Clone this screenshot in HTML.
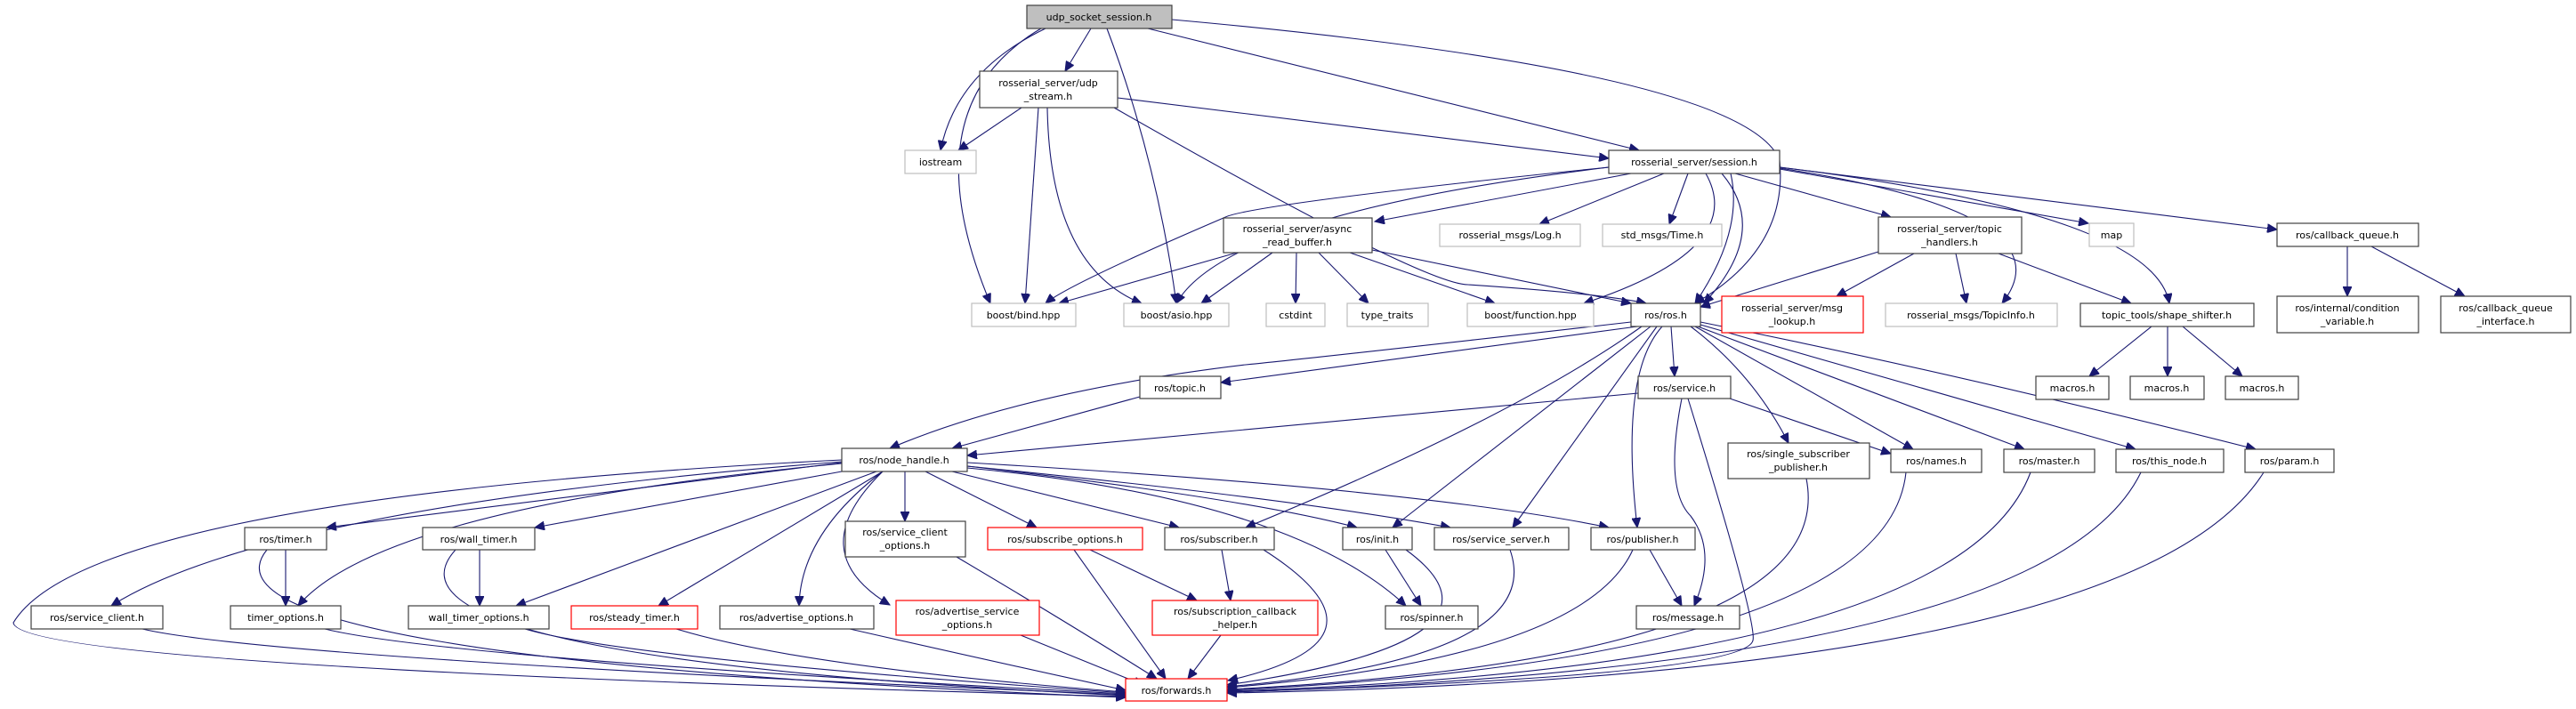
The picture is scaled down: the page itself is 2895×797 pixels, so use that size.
<!DOCTYPE html>
<html><head><meta charset="utf-8"><style>
html,body{margin:0;padding:0;background:#fff}
svg{display:block}
text{font-family:"DejaVu Sans","Liberation Sans",sans-serif;font-size:11px;fill:#000;text-anchor:middle}
.n{fill:#fff;stroke:#404040;stroke-width:1.2}
.g{fill:#fff;stroke:#bfbfbf;stroke-width:1.2}
.r{fill:#fff;stroke:#ff0000;stroke-width:1.2}
.e{fill:none;stroke:#191970;stroke-width:1.1;marker-end:url(#a)}
</style></head><body>
<svg width="2895" height="797" viewBox="0 0 2895 797" xmlns="http://www.w3.org/2000/svg">
<defs><marker id="a" markerUnits="userSpaceOnUse" markerWidth="12" markerHeight="10" refX="11" refY="5" orient="auto"><path d="M0,0 L11,5 L0,10 z" fill="#191970" stroke="#191970"/></marker></defs>
<g>
<!-- udp -->
<path class="e" d="M1226,32 L1197,80"/>
<path class="e" d="M1175,32 Q1075,80 1057,169"/>
<path class="e" d="M1170,32 Q1020,120 1113,341"/>
<path class="e" d="M1244,32 Q1300,180 1322,341"/>
<path class="e" d="M1290,32 L1842,169"/>
<path class="e" d="M1317,22 Q1960,80 2000,180 Q2010,280 1905,341"/>
<!-- udp_stream -->
<path class="e" d="M1148,121 L1077,169"/>
<path class="e" d="M1167,121 L1152,341"/>
<path class="e" d="M1177,121 Q1180,300 1283,341"/>
<path class="e" d="M1256,110 L1808,178"/>
<path class="e" d="M1252,121 Q1600,320 1650,320 Q1800,330 1850,341"/>
<!-- session -->
<path class="e" d="M1808,188 Q1400,230 1375,245 Q1200,320 1175,341"/>
<path class="e" d="M1808,188 Q1380,240 1322,341"/>
<path class="e" d="M1833,195 L1545,249"/>
<path class="e" d="M1870,195 L1730,252"/>
<path class="e" d="M1897,195 L1876,252"/>
<path class="e" d="M1917,195 Q1965,280 1780,341"/>
<path class="e" d="M1935,195 Q1990,260 1915,341"/>
<path class="e" d="M1945,195 Q1960,260 1905,341"/>
<path class="e" d="M1950,195 L2125,244"/>
<path class="e" d="M2000,189 Q2330,240 2250,341"/>
<path class="e" d="M2000,190 L2347,251"/>
<path class="e" d="M2000,188 Q2420,240 2438,341"/>
<path class="e" d="M2000,188 L2559,258"/>
<!-- async -->
<path class="e" d="M1390,284 L1190,341"/>
<path class="e" d="M1430,284 L1350,341"/>
<path class="e" d="M1457,284 L1456,341"/>
<path class="e" d="M1482,284 L1538,341"/>
<path class="e" d="M1517,284 L1680,341"/>
<path class="e" d="M1542,281 L1833,341"/>
<!-- topic handlers -->
<path class="e" d="M2111,283 L1911,345"/>
<path class="e" d="M2151,285 L2064,333"/>
<path class="e" d="M2198,285 L2210,341"/>
<path class="e" d="M2246,285 L2395,341"/>
<path class="e" d="M2638,277 L2638,333"/>
<path class="e" d="M2665,277 L2770,333"/>
<path class="e" d="M2418,367 L2348,423"/>
<path class="e" d="M2436,367 L2436,423"/>
<path class="e" d="M2453,367 L2520,423"/>
<!-- ros.h -->
<path class="e" d="M1833,362 Q1500,400 1400,410 Q1150,440 1000,504"/>
<path class="e" d="M1840,367 L1372,430"/>
<path class="e" d="M1878,367 L1882,423"/>
<path class="e" d="M1845,367 Q1700,470 1400,593"/>
<path class="e" d="M1855,367 L1565,593"/>
<path class="e" d="M1862,367 L1700,593"/>
<path class="e" d="M1868,367 Q1820,420 1840,593"/>
<path class="e" d="M1900,367 Q1970,420 2010,498"/>
<path class="e" d="M1905,367 L2150,505"/>
<path class="e" d="M1908,367 L2275,505"/>
<path class="e" d="M1911,365 L2400,505"/>
<path class="e" d="M1911,362 Q2200,420 2535,505"/>
<path class="e" d="M1281,446 L1070,504"/>
<!-- service.h -->
<path class="e" d="M1841,442 L1087,512"/>
<path class="e" d="M1944,448 L2125,510"/>
<path class="e" d="M1890,448 Q1870,550 1900,580 Q1930,620 1904,681"/>
<path class="e" d="M1897,448 Q1975,700 1970,720 Q1960,760 1379,778"/>
<!-- node_handle -->
<path class="e" d="M946,519 Q300,570 125,681"/>
<path class="e" d="M946,517 Q100,560 15,700 Q20,750 1265,783"/>
<path class="e" d="M946,520 L367,593"/>
<path class="e" d="M946,521 Q430,570 335,681"/>
<path class="e" d="M946,530 L601,593"/>
<path class="e" d="M985,530 L580,681"/>
<path class="e" d="M992,530 L740,681"/>
<path class="e" d="M992,530 Q900,600 898,681"/>
<path class="e" d="M992,530 Q900,620 1000,680"/>
<path class="e" d="M1017,530 L1017,586"/>
<path class="e" d="M1040,530 L1165,593"/>
<path class="e" d="M1070,530 L1325,593"/>
<path class="e" d="M1087,524 Q1400,560 1525,593"/>
<path class="e" d="M1087,524 Q1450,560 1630,593"/>
<path class="e" d="M1087,520 Q1600,550 1808,593"/>
<path class="e" d="M1087,526 Q1450,560 1580,681"/>
<!-- mid layer -->
<path class="e" d="M321,618 L321,681"/>
<path class="e" d="M300,618 Q200,740 1265,784"/>
<path class="e" d="M539,618 L539,681"/>
<path class="e" d="M512,618 Q400,740 1265,782"/>
<path class="e" d="M160,707 Q300,740 1265,781"/>
<path class="e" d="M365,707 Q500,740 1265,780"/>
<path class="e" d="M590,707 Q700,740 1265,779"/>
<path class="e" d="M760,707 Q900,750 1265,778"/>
<path class="e" d="M955,707 Q1100,740 1265,776"/>
<path class="e" d="M1075,626 Q1200,700 1300,763"/>
<path class="e" d="M1147,714 L1285,770"/>
<path class="e" d="M1207,618 L1310,763"/>
<path class="e" d="M1225,618 L1345,675"/>
<path class="e" d="M1373,618 L1383,675"/>
<path class="e" d="M1420,618 Q1580,720 1380,765"/>
<path class="e" d="M1372,714 L1335,763"/>
<path class="e" d="M1557,618 L1597,681"/>
<path class="e" d="M1580,618 Q1720,720 1379,770"/>
<path class="e" d="M1697,618 Q1740,740 1379,772"/>
<path class="e" d="M1835,618 Q1780,740 1379,773"/>
<path class="e" d="M1854,618 L1890,681"/>
<path class="e" d="M2030,538 Q2070,740 1379,775"/>
<path class="e" d="M2142,531 Q2120,740 1379,776"/>
<path class="e" d="M2282,531 Q2200,750 1379,777"/>
<path class="e" d="M2406,531 Q2300,750 1379,778"/>
<path class="e" d="M2544,531 Q2400,760 1379,779"/>
</g>
<g>
<rect x="1154" y="6" width="163" height="26" fill="#bfbfbf" stroke="#404040" stroke-width="1.2"/><text x="1235" y="23">udp_socket_session.h</text>
<rect class="n" x="1101" y="80" width="155" height="41"/><text x="1178" y="97">rosserial_server/udp</text><text x="1178" y="112">_stream.h</text>
<rect class="g" x="1017" y="169" width="80" height="26"/><text x="1057" y="186">iostream</text>
<rect class="n" x="1808" y="169" width="192" height="26"/><text x="1904" y="186">rosserial_server/session.h</text>
<rect class="n" x="1375" y="245" width="167" height="39"/><text x="1458" y="261">rosserial_server/async</text><text x="1458" y="276">_read_buffer.h</text>
<rect class="g" x="1618" y="252" width="158" height="25"/><text x="1697" y="268">rosserial_msgs/Log.h</text>
<rect class="g" x="1801" y="252" width="134" height="25"/><text x="1868" y="268">std_msgs/Time.h</text>
<rect class="n" x="2111" y="244" width="161" height="41"/><text x="2191" y="261">rosserial_server/topic</text><text x="2191" y="276">_handlers.h</text>
<rect class="g" x="2348" y="251" width="50" height="26"/><text x="2373" y="268">map</text>
<rect class="n" x="2559" y="251" width="159" height="26"/><text x="2638" y="268">ros/callback_queue.h</text>
<rect class="g" x="1092" y="341" width="117" height="26"/><text x="1150" y="358">boost/bind.hpp</text>
<rect class="g" x="1263" y="341" width="118" height="26"/><text x="1322" y="358">boost/asio.hpp</text>
<rect class="g" x="1423" y="341" width="66" height="26"/><text x="1456" y="358">cstdint</text>
<rect class="g" x="1514" y="341" width="91" height="26"/><text x="1559" y="358">type_traits</text>
<rect class="g" x="1649" y="341" width="142" height="26"/><text x="1720" y="358">boost/function.hpp</text>
<rect class="n" x="1833" y="341" width="78" height="26"/><text x="1872" y="358">ros/ros.h</text>
<rect class="r" x="1935" y="333" width="159" height="41"/><text x="2014" y="350">rosserial_server/msg</text><text x="2014" y="365">_lookup.h</text>
<rect class="g" x="2119" y="341" width="193" height="26"/><text x="2215" y="358">rosserial_msgs/TopicInfo.h</text>
<rect class="n" x="2338" y="341" width="195" height="26"/><text x="2435" y="358">topic_tools/shape_shifter.h</text>
<rect class="n" x="2559" y="333" width="159" height="41"/><text x="2638" y="350">ros/internal/condition</text><text x="2638" y="365">_variable.h</text>
<rect class="n" x="2743" y="333" width="146" height="41"/><text x="2816" y="350">ros/callback_queue</text><text x="2816" y="365">_interface.h</text>
<rect class="n" x="2288" y="423" width="82" height="26"/><text x="2329" y="440">macros.h</text>
<rect class="n" x="2394" y="423" width="83" height="26"/><text x="2435" y="440">macros.h</text>
<rect class="n" x="2501" y="423" width="82" height="26"/><text x="2542" y="440">macros.h</text>
<rect class="n" x="1281" y="423" width="91" height="25"/><text x="1326" y="440">ros/topic.h</text>
<rect class="n" x="1841" y="423" width="104" height="25"/><text x="1893" y="440">ros/service.h</text>
<rect class="n" x="946" y="504" width="141" height="26"/><text x="1016" y="521">ros/node_handle.h</text>
<rect class="n" x="1942" y="498" width="159" height="40"/><text x="2021" y="514">ros/single_subscriber</text><text x="2021" y="529">_publisher.h</text>
<rect class="n" x="2125" y="505" width="102" height="26"/><text x="2176" y="522">ros/names.h</text>
<rect class="n" x="2252" y="505" width="102" height="26"/><text x="2303" y="522">ros/master.h</text>
<rect class="n" x="2378" y="505" width="121" height="26"/><text x="2438" y="522">ros/this_node.h</text>
<rect class="n" x="2523" y="505" width="100" height="26"/><text x="2573" y="522">ros/param.h</text>
<rect class="n" x="275" y="593" width="92" height="25"/><text x="321" y="610">ros/timer.h</text>
<rect class="n" x="475" y="593" width="126" height="25"/><text x="538" y="610">ros/wall_timer.h</text>
<rect class="n" x="950" y="586" width="135" height="40"/><text x="1017" y="602">ros/service_client</text><text x="1017" y="617">_options.h</text>
<rect class="r" x="1110" y="593" width="174" height="25"/><text x="1197" y="610">ros/subscribe_options.h</text>
<rect class="n" x="1309" y="593" width="123" height="25"/><text x="1370" y="610">ros/subscriber.h</text>
<rect class="n" x="1509" y="593" width="78" height="25"/><text x="1548" y="610">ros/init.h</text>
<rect class="n" x="1612" y="593" width="151" height="25"/><text x="1687" y="610">ros/service_server.h</text>
<rect class="n" x="1788" y="593" width="117" height="25"/><text x="1846" y="610">ros/publisher.h</text>
<rect class="n" x="35" y="681" width="148" height="26"/><text x="109" y="698">ros/service_client.h</text>
<rect class="n" x="259" y="681" width="124" height="26"/><text x="321" y="698">timer_options.h</text>
<rect class="n" x="459" y="681" width="158" height="26"/><text x="538" y="698">wall_timer_options.h</text>
<rect class="r" x="642" y="681" width="142" height="26"/><text x="713" y="698">ros/steady_timer.h</text>
<rect class="n" x="809" y="681" width="173" height="26"/><text x="895" y="698">ros/advertise_options.h</text>
<rect class="r" x="1007" y="675" width="161" height="39"/><text x="1087" y="691">ros/advertise_service</text><text x="1087" y="706">_options.h</text>
<rect class="r" x="1295" y="675" width="186" height="39"/><text x="1388" y="691">ros/subscription_callback</text><text x="1388" y="706">_helper.h</text>
<rect class="n" x="1557" y="681" width="104" height="26"/><text x="1609" y="698">ros/spinner.h</text>
<rect class="n" x="1839" y="681" width="116" height="26"/><text x="1897" y="698">ros/message.h</text>
<rect class="r" x="1265" y="763" width="114" height="25"/><text x="1322" y="780">ros/forwards.h</text>
</g>
</svg>
</body></html>
